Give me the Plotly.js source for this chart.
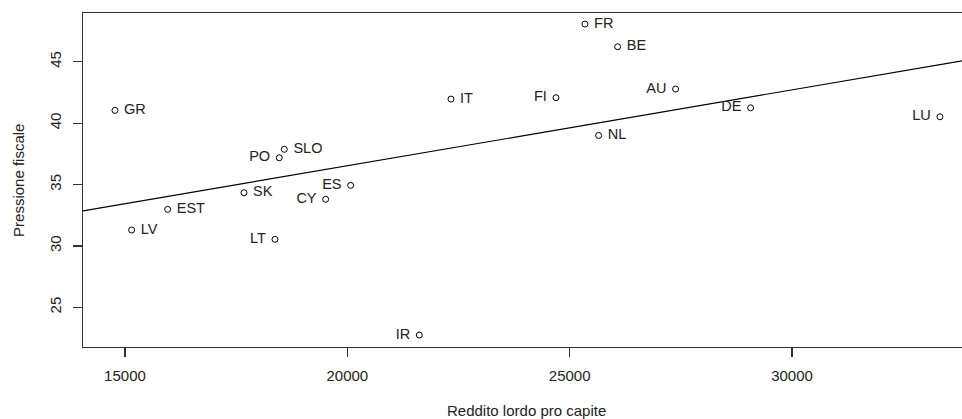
<!DOCTYPE html>
<html>
<head>
<meta charset="utf-8">
<script src="https://cdn.plot.ly/plotly-3.0.1.min.js"></script>
<style>html,body{margin:0;padding:0;background:#fff;}#chart{width:962px;height:419px;}</style>
</head>
<body>
<div id="chart"></div>
<script>
// Data
const countries = ["GR","LV","EST","SK","PO","SLO","LT","CY","ES","IR","IT","FI","FR","BE","NL","AU","DE","LU"];
const reddito   = [14775,15150,15960,17676,18470,18583,18373,19513,20075,21618,22331,24692,25344,26079,25652,27383,29070,33327];
const pressione = [41.04,31.3,32.98,34.33,37.18,37.87,30.54,33.8,34.93,22.74,41.96,42.07,48.07,46.22,39.0,42.78,41.25,40.52];
const labelSide = ["right","right","right","right","left","right","left","left","left","left","right","left","right","right","right","left","left","left"];
const xTicks = [15000,20000,25000,30000];
const yTicks = [25,30,35,40,45];

const xRange = [14056, 33823];
const yRange = [21.77, 48.97];

// OLS fit of pressione on reddito
const n = reddito.length;
const mx = reddito.reduce((a,b)=>a+b,0)/n;
const my = pressione.reduce((a,b)=>a+b,0)/n;
let sxy = 0, sxx = 0;
for (let i=0;i<n;i++){ sxy += (reddito[i]-mx)*(pressione[i]-my); sxx += (reddito[i]-mx)**2; }
const slope = sxy/sxx, intercept = my - slope*mx;
const lineX = xRange.slice();
const lineY = lineX.map(x => intercept + slope*x);

const font = "Arial, 'Liberation Sans', sans-serif";
const ink = "#222";

const traces = [
  {
    x: lineX, y: lineY, type: "scatter", mode: "lines",
    line: {color: "#000", width: 1.2}, hoverinfo: "skip"
  },
  {
    // labels, offset from the points by an invisible larger marker
    x: reddito, y: pressione, type: "scatter", mode: "markers+text",
    text: countries,
    textposition: labelSide.map(s => "middle " + s),
    textfont: {family: font, size: 14.5, color: ink},
    marker: {symbol: "circle", size: 13, color: "rgba(0,0,0,0)", line: {width: 0}},
    cliponaxis: false, hoverinfo: "skip"
  },
  {
    x: reddito, y: pressione, type: "scatter", mode: "markers",
    marker: {symbol: "circle-open", size: 6, color: "#000", line: {width: 1, color: "#000"}},
    cliponaxis: false
  }
];

const layout = {
  width: 962, height: 419,
  margin: {l: 83, r: 0, t: 13, b: 72, pad: 0},
  paper_bgcolor: "#fff", plot_bgcolor: "#fff",
  showlegend: false,
  font: {family: font, size: 15, color: ink},
  xaxis: {
    range: xRange, tickvals: xTicks, ticktext: xTicks.map(String),
    showgrid: false, zeroline: false,
    showline: true, mirror: true, linecolor: "#333", linewidth: 1.2,
    ticks: "outside", ticklen: 9, tickwidth: 1.2, tickcolor: "#333",
    ticklabelstandoff: 6,
    tickfont: {family: font, size: 15, color: ink}
  },
  yaxis: {
    range: yRange, tickvals: yTicks, ticktext: yTicks.map(String),
    showgrid: false, zeroline: false,
    showline: true, mirror: false, linecolor: "#333", linewidth: 1.2,
    ticks: "outside", ticklen: 9, tickwidth: 1.2, tickcolor: "#333",
    tickangle: -90, ticklabelstandoff: 6,
    tickfont: {family: font, size: 15, color: ink}
  },
  annotations: [
    {text: "Reddito lordo pro capite", xref: "paper", yref: "paper", x: 0.505, y: -0.189,
     xanchor: "center", yanchor: "middle", showarrow: false, font: {family: font, size: 15, color: ink}},
    {text: "Pressione fiscale", xref: "paper", yref: "paper", x: -0.074, y: 0.5, textangle: -90,
     xanchor: "center", yanchor: "middle", showarrow: false, font: {family: font, size: 15, color: ink}}
  ]
};

Plotly.newPlot("chart", traces, layout, {displayModeBar: false, staticPlot: true});
</script>
</body>
</html>
